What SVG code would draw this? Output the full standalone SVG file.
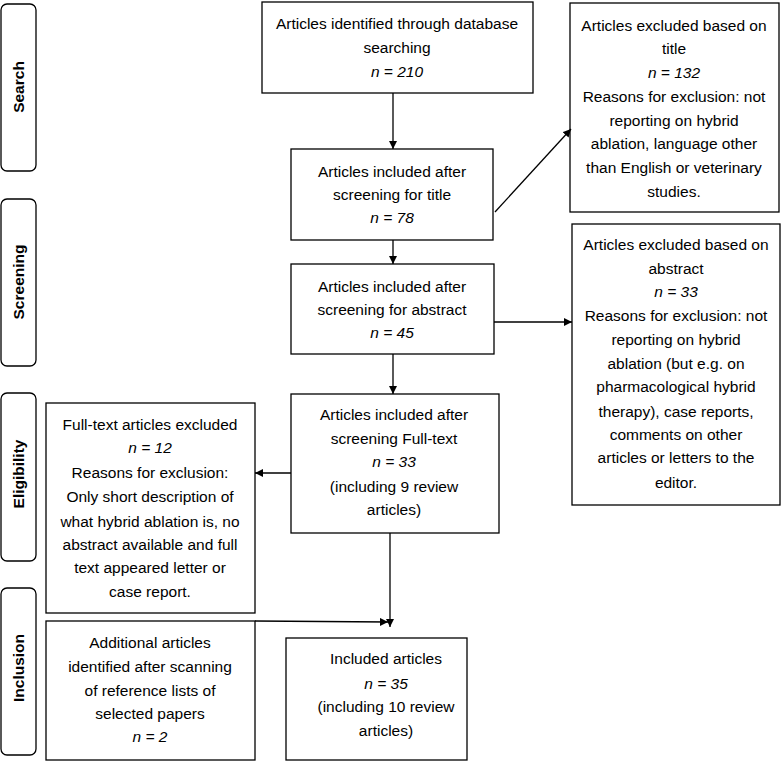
<svg xmlns="http://www.w3.org/2000/svg" width="782" height="762" viewBox="0 0 782 762">
<style>
.box{fill:#fff;stroke:#000;stroke-width:1.3}
.stage{fill:#fff;stroke:#000;stroke-width:1.3}
text{font-family:"Liberation Sans",Arial,sans-serif;font-size:15.5px;fill:#000;text-anchor:middle}
.i{font-style:italic}
.st{font-weight:bold;font-size:15.5px}
.c{fill:none;stroke:#000;stroke-width:1.3}
</style>
<defs>
<marker id="ah" viewBox="0 0 10 10" refX="10" refY="5" markerWidth="8" markerHeight="8" markerUnits="userSpaceOnUse" orient="auto">
<path d="M0,0 L10,5 L0,10 z" fill="#000"/>
</marker>
</defs>
<rect width="782" height="762" fill="#fff"/>

<g id="stage-search"><rect class="stage" x="1" y="4" width="35" height="167" rx="6"/><text class="st" transform="translate(24,87) rotate(-90)">Search</text></g>
<g id="stage-screening"><rect class="stage" x="1" y="199" width="35" height="167" rx="6"/><text class="st" transform="translate(24,282) rotate(-90)">Screening</text></g>
<g id="stage-eligibility"><rect class="stage" x="1" y="393" width="35" height="168" rx="6"/><text class="st" transform="translate(24,474) rotate(-90)">Eligibility</text></g>
<g id="stage-inclusion"><rect class="stage" x="1" y="588" width="35" height="167" rx="6"/><text class="st" transform="translate(24,668) rotate(-90)">Inclusion</text></g>

<g id="identified"><rect class="box" x="262" y="2" width="271" height="91"/>
<text x="397" y="29">Articles identified through database</text>
<text x="397" y="53">searching</text>
<text class="i" x="397" y="77">n = 210</text></g>

<g id="title-screen"><rect class="box" x="291" y="149" width="202" height="91"/>
<text x="392" y="177">Articles included after</text>
<text x="392" y="200">screening for title</text>
<text class="i" x="392" y="223">n = 78</text></g>

<g id="excl-title"><rect class="box" x="570" y="3" width="209" height="209"/>
<text x="674" y="31">Articles excluded based on</text>
<text x="674" y="54">title</text>
<text class="i" x="674" y="78">n = 132</text>
<text x="674" y="102">Reasons for exclusion: not</text>
<text x="674" y="126">reporting on hybrid</text>
<text x="674" y="149">ablation, language other</text>
<text x="674" y="173">than English or veterinary</text>
<text x="674" y="197">studies.</text></g>

<g id="abstract-screen"><rect class="box" x="291" y="264" width="203" height="90"/>
<text x="392" y="292">Articles included after</text>
<text x="392" y="315">screening for abstract</text>
<text class="i" x="392" y="338">n = 45</text></g>

<g id="excl-abstract"><rect class="box" x="572" y="224" width="208" height="281"/>
<text x="676" y="250">Articles excluded based on</text>
<text x="676" y="274">abstract</text>
<text class="i" x="676" y="297">n = 33</text>
<text x="676" y="321">Reasons for exclusion: not</text>
<text x="676" y="345">reporting on hybrid</text>
<text x="676" y="369">ablation (but e.g. on</text>
<text x="676" y="392">pharmacological hybrid</text>
<text x="676" y="417">therapy), case reports,</text>
<text x="676" y="440">comments on other</text>
<text x="676" y="463">articles or letters to the</text>
<text x="676" y="488">editor.</text></g>

<g id="fulltext-screen"><rect class="box" x="291" y="394" width="208" height="139"/>
<text x="394" y="420">Articles included after</text>
<text x="394" y="444">screening Full-text</text>
<text class="i" x="394" y="467">n = 33</text>
<text x="394" y="492">(including 9 review</text>
<text x="394" y="515">articles)</text></g>

<g id="excl-fulltext"><rect class="box" x="46" y="403" width="209" height="210"/>
<text x="150" y="430">Full-text articles excluded</text>
<text class="i" x="150" y="453">n = 12</text>
<text x="150" y="478">Reasons for exclusion:</text>
<text x="150" y="502">Only short description of</text>
<text x="150" y="527">what hybrid ablation is, no</text>
<text x="150" y="550">abstract available and full</text>
<text x="150" y="573">text appeared letter or</text>
<text x="150" y="597">case report.</text></g>

<g id="additional"><rect class="box" x="46" y="621" width="209" height="139"/>
<text x="150" y="648">Additional articles</text>
<text x="150" y="672">identified after scanning</text>
<text x="150" y="696">of reference lists of</text>
<text x="150" y="719">selected papers</text>
<text class="i" x="150" y="742">n = 2</text></g>

<g id="included"><rect class="box" x="286" y="638" width="181" height="122"/>
<text x="386" y="664">Included articles</text>
<text class="i" x="386" y="689">n = 35</text>
<text x="386" y="712">(including 10 review</text>
<text x="386" y="736">articles)</text></g>

<g id="connectors">
<line class="c" x1="393" y1="93" x2="393" y2="149" marker-end="url(#ah)"/>
<line class="c" x1="393" y1="240" x2="393" y2="264" marker-end="url(#ah)"/>
<line class="c" x1="393" y1="354" x2="393" y2="394" marker-end="url(#ah)"/>
<line class="c" x1="495" y1="212" x2="571" y2="129" marker-end="url(#ah)"/>
<line class="c" x1="494" y1="322" x2="572" y2="322" marker-end="url(#ah)"/>
<line class="c" x1="291" y1="473" x2="255" y2="473" marker-end="url(#ah)"/>
<line class="c" x1="390" y1="533" x2="390" y2="627" marker-end="url(#ah)"/>
<line class="c" x1="255" y1="621" x2="388" y2="622" marker-end="url(#ah)"/>
</g>
</svg>
